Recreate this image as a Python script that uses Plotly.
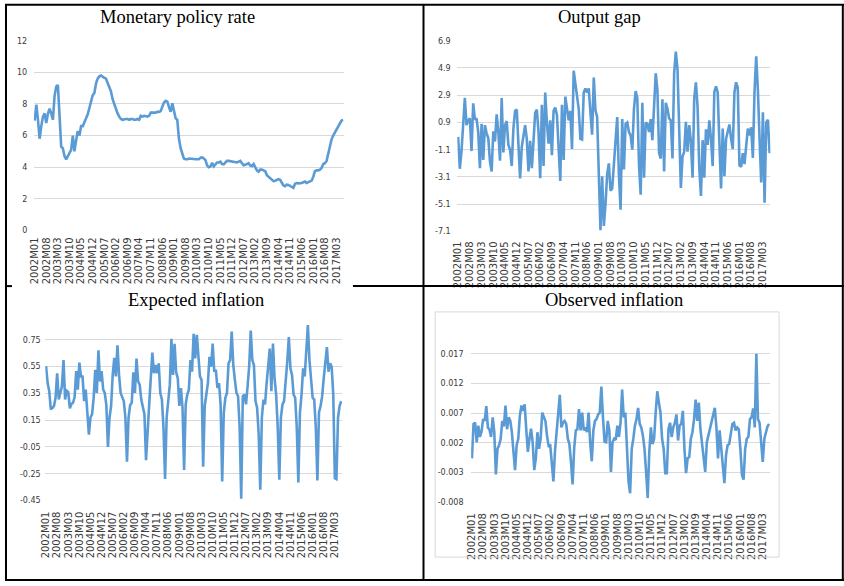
import plotly.graph_objects as go

# ---------------- data ----------------
N_MONTHS = 187
MONTHS = [f"{2002 + k // 12}M{k % 12 + 1:02d}" for k in range(N_MONTHS)]

X_TICK_LABELS = ["2002M01", "2002M08", "2003M03", "2003M10", "2004M05", "2004M12",
                 "2005M07", "2006M02", "2006M09", "2007M04", "2007M11", "2008M06",
                 "2009M01", "2009M08", "2010M03", "2010M10", "2011M05", "2011M12",
                 "2012M07", "2013M02", "2013M09", "2014M04", "2014M11", "2015M06",
                 "2016M01", "2016M08", "2017M03"]

POLICY_RATE = [
    6.95, 7.95, 7.0, 5.8, 6.6, 7.2, 7.4, 6.8, 7.4, 7.7,
    7.4, 7.0, 8.5, 9.1, 9.2, 7.5, 5.3, 5.2, 4.7, 4.5,
    4.7, 5.0, 5.1, 6.0, 5.0, 5.7, 6.3, 6.0, 6.6, 6.6,
    6.8, 7.1, 7.35, 7.8, 8.2, 8.55, 8.7, 9.3, 9.6, 9.75,
    9.8, 9.7, 9.65, 9.6, 9.3, 9.0, 8.8, 8.3, 7.95, 7.65,
    7.4, 7.2, 7.05, 7.0, 7.05, 7.05, 7.05, 7.0, 7.05, 7.05,
    7.0, 7.0, 7.05, 7.0, 7.25, 7.2, 7.25, 7.2, 7.2, 7.25,
    7.45, 7.45, 7.45, 7.45, 7.5, 7.5, 7.55, 7.8, 8.1, 8.2,
    8.15, 7.8, 7.5, 8.05, 7.6, 7.1, 7.0, 5.8, 5.2, 4.8,
    4.55, 4.5, 4.5, 4.55, 4.55, 4.55, 4.52, 4.5, 4.48, 4.5,
    4.6, 4.62, 4.55, 4.45, 4.1, 4.0, 4.05, 4.28, 4.05, 4.2,
    4.3, 4.3, 4.35, 4.2, 4.18, 4.3, 4.4, 4.4, 4.38, 4.36,
    4.33, 4.3, 4.3, 4.35, 4.4, 4.25, 4.12, 4.15, 4.2, 4.25,
    4.1, 4.08, 4.2, 4.0, 3.8, 3.72, 3.85, 3.85, 3.8, 3.75,
    3.5, 3.4, 3.33, 3.25, 3.12, 3.15, 3.18, 3.25, 3.2, 2.98,
    2.85, 2.8, 2.9, 2.88, 2.82, 2.75, 2.7, 2.95, 3.0, 2.98,
    2.97, 3.0, 3.05, 3.1, 3.0, 3.05, 3.12, 3.15, 3.4, 3.75,
    3.8, 3.8, 3.85, 3.95, 4.2, 4.25, 4.4, 4.9, 5.4, 5.75,
    6.0, 6.2, 6.4, 6.55, 6.7, 6.95, 6.98,
]

OUTPUT_GAP = [
    -0.16, -2.5, -1.2, 0.8, 2.7, 0.7, 1.05, 1.2, -1.2, 2.3,
    1.1, 1.2, 0.2, -2.45, 0.8, -1.85, 0.7, 0.1, -0.25, -1.95,
    -2.7, 0.25, -0.5, 1.5, 0.2, -1.9, 2.7, -1.3, 0.7, 1.0,
    -0.75, -1.1, -2.3, 0.45, 1.75, 1.85, -0.5, -3.2, -0.9, 0.0,
    0.7, -0.3, -2.7, -0.45, -2.45, -0.5, 1.6, 1.85, 0.2, -3.2,
    2.2, -2.3, 3.1, 0.9, -0.65, 1.05, -1.5, 1.75, 2.0, 1.45,
    -1.0, -3.4, 2.2, -1.85, 2.8, 2.0, 1.05, 1.75, -1.05, 4.7,
    3.8, 3.15, 1.9, -0.3, -0.35, 3.1, 3.4, 3.1, 3.4, 1.65,
    0.0, 4.2, 1.8, 1.3, -2.9, -7.0, -3.05, -6.7, -5.1, -2.9,
    -2.1, -4.1, -3.95, -2.2, -0.05, 1.3, -2.9, -5.5, 1.15, -2.55,
    0.8, 0.9, 0.2, -0.05, -1.1, 1.9, 3.2, 2.7, -2.2, -4.4,
    2.35, -3.15, 0.9, 0.8, 0.2, 1.15, -0.4, 2.35, 4.5, 3.3,
    -1.35, -1.75, 2.6, -2.7, 2.35, 1.9, 1.2, 1.05, -1.75, 4.5,
    6.1, 4.8, -0.65, -3.9, -1.6, -1.25, 0.95, -1.25, 0.7, -0.5,
    -3.15, 2.7, 3.85, 2.0, -2.45, -4.5, -0.4, -3.15, 0.4, -0.75,
    1.05, -0.3, -2.3, 3.15, 3.55, 3.1, -0.5, -3.95, 0.45, -3.05,
    -0.3, 0.3, 0.75, -0.3, -1.05, 3.1, 3.85, 3.45, -2.25, -2.35,
    -1.35, -2.15, -0.5, 0.45, -0.05, 0.55, -1.7, 3.2, 5.75, 3.3,
    -0.3, -3.5, 1.65, -5.0, 0.9, 1.1, -1.35,
]

EXPECTED_INFLATION = [
    0.554, 0.427, 0.366, 0.231, 0.24, 0.256, 0.317, 0.5, 0.304, 0.366,
    0.402, 0.598, 0.304, 0.37, 0.36, 0.238, 0.272, 0.28, 0.322, 0.517,
    0.378, 0.579, 0.476, 0.476, 0.292, 0.378, 0.231, 0.042, 0.17, 0.194,
    0.317, 0.525, 0.353, 0.672, 0.439, 0.517, 0.378, 0.353, 0.263, -0.05,
    0.17, 0.256, 0.488, 0.615, 0.476, 0.708, 0.488, 0.353, 0.322, 0.292,
    0.17, -0.16, 0.17, 0.263, 0.28, 0.508, 0.353, 0.61, 0.439, 0.415,
    0.304, 0.256, 0.194, -0.148, 0.096, 0.268, 0.464, 0.655, 0.5, 0.561,
    0.5, 0.574, 0.353, 0.304, 0.096, -0.288, 0.17, 0.317, 0.415, 0.757,
    0.488, 0.72, 0.508, 0.464, 0.256, 0.39, 0.243, -0.222, 0.268, 0.341,
    0.378, 0.598, 0.512, 0.794, 0.61, 0.787, 0.61, 0.476, 0.451, -0.197,
    0.256, 0.329, 0.427, 0.623, 0.549, 0.721, 0.512, 0.525, 0.39, 0.427,
    0.268, -0.308, 0.207, 0.317, 0.353, 0.574, 0.598, 0.811, 0.561, 0.451,
    0.353, 0.329, 0.096, -0.437, 0.329, 0.341, 0.268, 0.402, 0.549, 0.818,
    0.598, 0.561, 0.292, 0.243, 0.047, -0.369, 0.17, 0.304, 0.268, 0.427,
    0.586, 0.684, 0.366, 0.721, 0.464, 0.341, 0.096, -0.295, 0.17, 0.268,
    0.292, 0.415, 0.586, 0.77, 0.537, 0.488, 0.341, 0.317, 0.096, -0.315,
    0.207, 0.341, 0.537, 0.476, 0.647, 0.86, 0.598, 0.464, 0.317, 0.304,
    0.096, -0.3, 0.207, 0.256, 0.329, 0.464, 0.586, 0.696, 0.512, 0.574,
    0.549, 0.341, -0.283, -0.29, 0.17, 0.256, 0.292,
]

OBSERVED_INFLATION = [
    -0.0006, 0.0052, 0.0054, 0.0021, 0.0049, 0.0030, 0.0039, 0.0060, 0.0057, 0.0082,
    0.0046, 0.0042, 0.0030, 0.0063, 0.0038, -0.0033, 0.0010, 0.0016, 0.0027, 0.0057,
    0.0048, 0.0083, 0.0043, 0.0063, 0.0057, 0.0038, 0.0005, -0.0026, 0.0016, 0.0027,
    0.0066, 0.0083, 0.0074, 0.0085, 0.0043, 0.0005, 0.0027, 0.0044, 0.0021, -0.0026,
    -0.0006, 0.0038, 0.0010, 0.0027, 0.0071, 0.0063, 0.0057, 0.0032, 0.0015, 0.0016,
    -0.0012, -0.0045, 0.0007, 0.0035, 0.0060, 0.0101, 0.0046, 0.0054, 0.0057, 0.0052,
    0.0027, 0.0018, -0.0012, -0.0050, 0.0011, 0.0041, 0.0043, 0.0077, 0.0041, 0.0071,
    0.0041, 0.0046, 0.0038, 0.0071, 0.0021, -0.0011, 0.0041, 0.0057, 0.0060, 0.0068,
    0.0071, 0.0115, 0.0063, 0.0022, 0.0021, 0.0057, 0.0041, -0.0029, 0.0021, 0.0027,
    0.0025, 0.0049, 0.0030, 0.0054, 0.0110, 0.0063, 0.0071, 0.0016, -0.0045, -0.0065,
    0.0010, 0.0027, 0.0049, 0.0060, 0.0079, 0.0052, 0.0046, 0.0032, 0.0010, -0.0029,
    -0.0073, 0.0005, 0.0046, 0.0018, 0.0027, 0.0071, 0.0107, 0.0088, 0.0071, 0.0027,
    0.0010, -0.0031, -0.0031, 0.0043, 0.0054, 0.0030, 0.0046, 0.0054, 0.0068, 0.0024,
    0.0049, 0.0052, 0.0074, 0.0010, -0.0031, -0.0006, -0.0004, 0.0027, 0.0038, 0.0060,
    0.0093, 0.0057, 0.0088, 0.0043, 0.0021, -0.0001, -0.0029, 0.0021, 0.0032, 0.0041,
    0.0054, 0.0063, 0.0079, 0.0046, -0.0006, 0.0041, 0.0010, -0.0023, -0.0048, -0.0001,
    0.0016, 0.0018, 0.0038, 0.0052, 0.0054, 0.0041, 0.0046, 0.0043, 0.0010, -0.0034,
    -0.0042, 0.0010, 0.0027, 0.0030, 0.0060, 0.0063, 0.0078, 0.0046, 0.0170, 0.0060,
    0.0054, 0.0016, -0.0012, 0.0027, 0.0038, 0.0048, 0.0052,
]

TITLES = ["Monetary policy rate", "Output gap", "Expected inflation", "Observed inflation"]

Y1_TICKS = [0, 2, 4, 6, 8, 10, 12]
Y1_TEXT = ["0", "2", "4", "6", "8", "10", "12"]
Y2_TICKS = [-7.1, -5.1, -3.1, -1.1, 0.9, 2.9, 4.9, 6.9]
Y2_TEXT = ["-7.1", "-5.1", "-3.1", "-1.1", "0.9", "2.9", "4.9", "6.9"]
Y3_TICKS = [-0.45, -0.25, -0.05, 0.15, 0.35, 0.55, 0.75]
Y3_TEXT = ["-0.45", "-0.25", "-0.05", "0.15", "0.35", "0.55", "0.75"]
Y4_TICKS = [-0.008, -0.003, 0.002, 0.007, 0.012, 0.017]
Y4_TEXT = ["-0.008", "-0.003", "0.002", "0.007", "0.012", "0.017"]

# ---------------- layout helpers ----------------
W, H = 844, 586


def px(x):
    return x / W


def py(y):
    return 1 - y / H


LINE_COLOR = "#5B9BD5"
GRID = "#D9D9D9"
TICK_COLOR = "#3a3a3a"
TICK_FONT = "DejaVu Sans"

fig = go.Figure()

series = [POLICY_RATE, OUTPUT_GAP, EXPECTED_INFLATION, OBSERVED_INFLATION]
for k, s in enumerate(series):
    sfx = "" if k == 0 else str(k + 1)
    fig.add_trace(go.Scatter(x=MONTHS, y=s, mode="lines",
                             line=dict(color=LINE_COLOR, width=2.6),
                             xaxis="x" + sfx, yaxis="y" + sfx,
                             showlegend=False, hoverinfo="skip"))

# panel geometry (pixels): x0, x1, ybottom, ytop ; y ranges
panels = [
    dict(x=(29, 341), y=(230, 37.3), yr=[0, 12], tv=Y1_TICKS, tt=Y1_TEXT, ylen=4, xlen=2),
    dict(x=(455, 770), y=(231, 37.3), yr=[-7.1, 6.9], tv=Y2_TICKS, tt=Y2_TEXT, ylen=4, xlen=5),
    dict(x=(40.5, 339), y=(504.3, 313.8), yr=[-0.45, 0.95], tv=Y3_TICKS, tt=Y3_TEXT, ylen=2, xlen=6),
    dict(x=(468.9, 769.5), y=(506, 325.2), yr=[-0.008, 0.022], tv=Y4_TICKS, tt=Y4_TEXT, ylen=5, xlen=6),
]

layout = dict(
    width=W, height=H,
    margin=dict(l=0, r=0, t=0, b=0, pad=0),
    paper_bgcolor="white", plot_bgcolor="white",
    showlegend=False,
)

for k, p in enumerate(panels):
    sfx = "" if k == 0 else str(k + 1)
    layout["xaxis" + sfx] = dict(
        domain=[px(p["x"][0]), px(p["x"][1])],
        anchor="y" + sfx,
        type="category",
        categoryorder="array", categoryarray=MONTHS,
        range=[-0.5, N_MONTHS - 0.5],
        tickmode="array", tickvals=X_TICK_LABELS, ticktext=X_TICK_LABELS,
        tickangle=-90,
        tickfont=dict(family=TICK_FONT, size=10, color=TICK_COLOR),
        showgrid=False, zeroline=False, showline=False,
        ticks="outside", ticklen=p["xlen"], tickcolor="rgba(0,0,0,0)",
        fixedrange=True,
    )
    layout["yaxis" + sfx] = dict(
        domain=[py(p["y"][0]), py(p["y"][1])],
        anchor="x" + sfx,
        range=p["yr"],
        tickmode="array", tickvals=p["tv"], ticktext=p["tt"],
        tickfont=dict(family=TICK_FONT, size=8, color=TICK_COLOR),
        showgrid=True, gridcolor=GRID, gridwidth=1,
        zeroline=False, showline=False,
        ticks="outside", ticklen=p["ylen"], tickcolor="rgba(0,0,0,0)",
        fixedrange=True,
    )

fig.update_layout(**layout)

# titles
title_pos = [(174, 13), (598, 13.5), (192.5, 300.5), (612.5, 300.5)]
for t, (tx, ty) in zip(TITLES, title_pos):
    fig.add_annotation(text=t, x=px(tx), y=py(ty), xref="paper", yref="paper",
                       xanchor="center", yanchor="middle", showarrow=False,
                       font=dict(family="Liberation Serif", size=18.5, color="black"))

# table borders
black = dict(color="black", width=2)
segments = [
    (0, 0.8, 844, 0.8),          # top
    (1, 0, 1, 586),              # left
    (842.8, 0, 842.8, 586),      # right
    (0, 585, 844, 585),          # bottom
    (421, 0, 421, 586),          # middle vertical
    (0, 286.5, 7, 286.5),        # middle horizontal (left piece)
    (350, 286.5, 844, 286.5),    # middle horizontal (rest)
]
for x0, y0, x1, y1 in segments:
    fig.add_shape(type="line", xref="paper", yref="paper",
                  x0=px(x0), y0=py(y0), x1=px(x1), y1=py(y1), line=black)

# light chart-area border of the observed inflation chart
fig.add_shape(type="rect", xref="paper", yref="paper",
              x0=px(432.7), y0=py(561.7), x1=px(778.7), y1=py(312.7),
              line=dict(color=GRID, width=1))

fig.write_html("out.html",
               config={"displayModeBar": False},
               post_script="document.body.style.margin='0';"
                           "document.body.style.overflow='hidden';")
